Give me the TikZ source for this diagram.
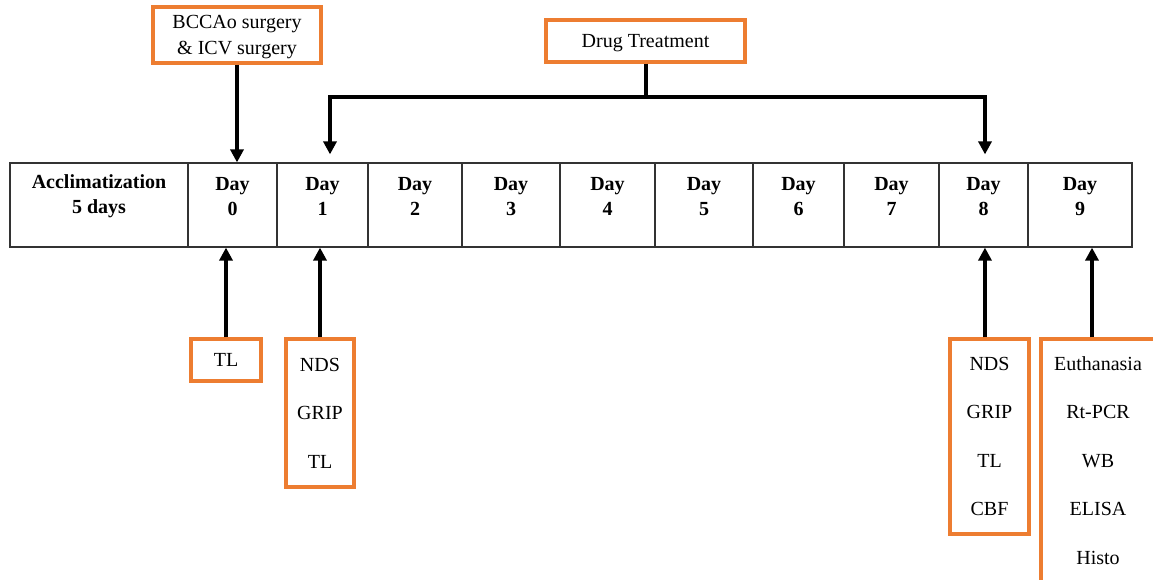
\documentclass[tikz,border=0pt]{standalone}
\usepackage{fontspec}
\setmainfont{Liberation Serif}
\usetikzlibrary{arrows.meta}
\definecolor{org}{HTML}{ED7D31}
\begin{document}
\begin{tikzpicture}[x=0.75pt,y=-0.75pt,
  cell/.style={draw=black!80, line width=0.9pt, minimum height=63pt, inner sep=0pt},
  lab/.style={font=\fontsize{15}{18.75}\selectfont\bfseries, align=center, inner sep=0pt},
  obox/.style={draw=org, line width=2.3pt, fill=white, inner sep=0pt, font=\fontsize{15}{36.4}\selectfont, align=center},
  arr/.style={line width=3pt, -{Triangle[length=9.8pt,width=9.8pt]}},
  bar/.style={line width=3pt}]
\useasboundingbox (0,0) rectangle (1153,579);
\clip (0,0) rectangle (1153,579);
% timeline cells
\newcommand\tcell[3]{\node[cell, minimum width={(#2-#1)*0.75pt}] (#3) at ({(#1+#2)/2},205) {};}
\tcell{10}{188}{ac}
\tcell{188}{277}{d0}
\tcell{277}{368}{d1}
\tcell{368}{462}{d2}
\tcell{462}{560}{d3}
\tcell{560}{655}{d4}
\tcell{655}{753}{d5}
\tcell{753}{844}{d6}
\tcell{844}{939}{d7}
\tcell{939}{1028}{d8}
\tcell{1028}{1132}{d9}
\node[lab] (tac) at (99,196.5) {Acclimatization\\5 days};
\node[lab] (t0) at (232.5,196.5) {Day\\0};
\node[lab] (t1) at (322.5,196.5) {Day\\1};
\node[lab] (t2) at (415,196.5) {Day\\2};
\node[lab] (t3) at (511,196.5) {Day\\3};
\node[lab] (t4) at (607.5,196.5) {Day\\4};
\node[lab] (t5) at (704,196.5) {Day\\5};
\node[lab] (t6) at (798.5,196.5) {Day\\6};
\node[lab] (t7) at (891.5,196.5) {Day\\7};
\node[lab] (t8) at (983.5,196.5) {Day\\8};
\node[lab] (t9) at (1080,196.5) {Day\\9};
% top boxes
\node[obox, font=\fontsize{15}{19.5}\selectfont, text depth=0pt, minimum width=126pt, minimum height=42pt] (bcc) at (237,35) {BCCAo surgery\\\& ICV surgery};
\node[obox, text depth=0pt, minimum width=149.25pt, minimum height=31.5pt] (drug) at (645.5,41) {Drug Treatment};
% bottom boxes
\node[obox, minimum width=52.5pt, minimum height=31.5pt] (tl) at (226,360) {TL};
\node[obox, minimum width=51pt, minimum height=111pt] (b1) at (320,413) {NDS\\GRIP\\TL};
\node[obox, minimum width=59.25pt, minimum height=146.25pt] (b2) at (989.5,436.5) {NDS\\GRIP\\TL\\CBF};
\node[obox, minimum width=85.5pt, minimum height=182.25pt] (b3) at (1098,460.5) {Euthanasia\\Rt-PCR\\WB\\ELISA\\Histo};
% connectors top
\draw[arr] (bcc.south) -- (bcc.south |- d0.north);
\coordinate (bl) at (330,97);
\coordinate (br) at (985,97);
\draw[bar] (drug.south) -- (drug.south |- bl);
\draw[bar, line cap=rect] (bl) -- (br);
\draw[arr, shorten >=6pt] (bl) -- (bl |- d1.north);
\draw[arr, shorten >=6pt] (br) -- (br |- d8.north);
% connectors bottom
\draw[arr] (tl.north) -- (tl.north |- d0.south);
\draw[arr] (b1.north) -- (b1.north |- d1.south);
\coordinate (a8) at ([xshift=-3.4pt]b2.north);
\draw[arr] (a8) -- (a8 |- d8.south);
\coordinate (a9) at ([xshift=-4.5pt]b3.north);
\draw[arr] (a9) -- (a9 |- d9.south);
\end{tikzpicture}
\end{document}
